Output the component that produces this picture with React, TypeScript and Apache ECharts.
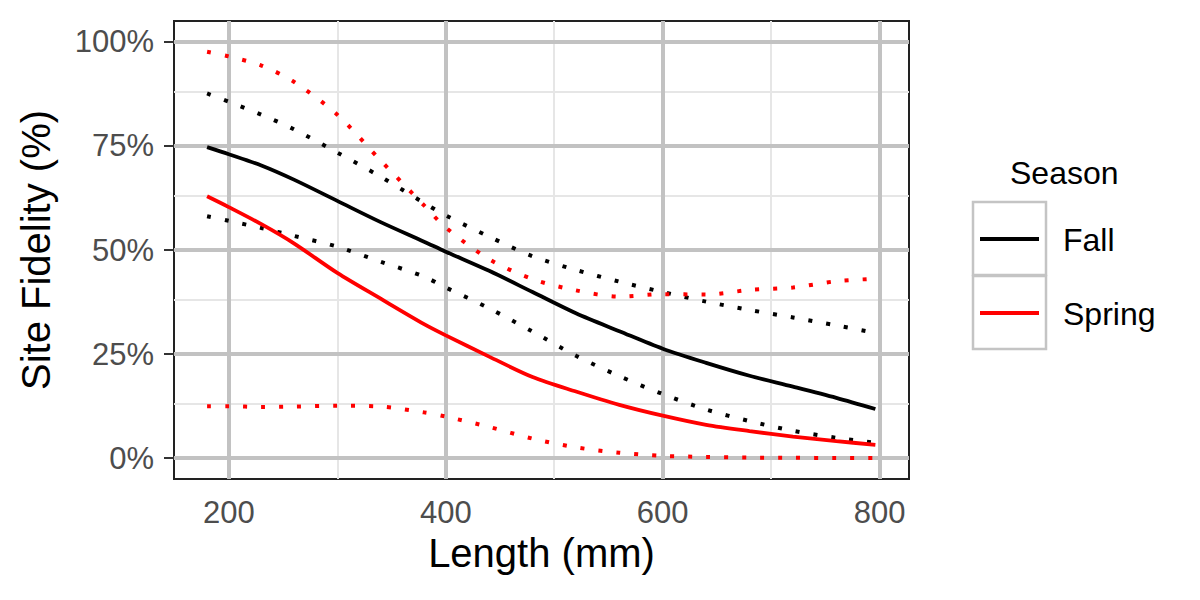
import React, { useEffect, useRef } from "react";
import * as echarts from "echarts";

// Length (mm) at which values were read
const lengths = [180, 200, 230, 260, 300, 340, 380, 400, 440, 480, 520, 560, 600, 640, 680, 720, 760, 796];

// Site fidelity (%)
const fallFit = [74.7, 73, 70.3, 66.9, 61.8, 56.7, 52, 49.6, 45, 39.9, 34.8, 30.5, 26.3, 22.9, 19.8, 17.2, 14.5, 11.8];
const fallUpper = [87.6, 85.6, 82.5, 79, 73.4, 67.6, 61.3, 58.3, 53.2, 48.5, 45.2, 42.4, 39.9, 37.6, 35.6, 33.8, 31.9, 30.1];
const fallLower = [58.1, 57, 55.3, 53.4, 50.8, 47.2, 43.6, 41, 36, 30.4, 24.6, 19.7, 15.4, 11.7, 8.9, 6.6, 4.9, 3.7];
const springFit = [62.9, 60.3, 56.2, 51.6, 44.5, 38.3, 32.2, 29.5, 24.4, 19.5, 16, 12.8, 10.2, 8, 6.5, 5.2, 4.1, 3.2];
const springUpper = [97.6, 96.5, 94.3, 90.4, 82.5, 71.5, 60.7, 55.4, 47.8, 43, 40.3, 38.8, 39.4, 39.3, 40.4, 41, 42.5, 43.1];
const springLower = [12.5, 12.5, 12.3, 12.4, 12.6, 12.4, 11, 10, 7.5, 4.7, 2.6, 1.3, 0.55, 0.3, 0.15, 0.1, 0.05, 0.03];

const seasons = ["Fall", "Spring"];
const seasonColors = ["#000000", "#ff0000"];

const xTicks = [200, 400, 600, 800];
const xMinor = [300, 500, 700];
const yTicks = [0, 0.25, 0.5, 0.75, 1];
const yMinor = [0.125, 0.375, 0.625, 0.875];

const FONT = "Liberation Sans, Arial, Helvetica, sans-serif";

const pairs = (ys: number[]) => lengths.map((x, i) => [x, ys[i] / 100]);

export default function App() {
  const ref = useRef<HTMLDivElement>(null);
  useEffect(() => {
    if (!ref.current) return;
    const chart = echarts.init(ref.current, null, { renderer: "svg" });
    const dotted = [4, 14];
    const lineSeries = (name: string, ys: number[], color: string, dot: boolean) => ({
      type: "line",
      name,
      data: pairs(ys),
      showSymbol: false,
      symbol: "none",
      smooth: 0.3,
      z: 3,
      silent: true,
      lineStyle: {
        color,
        width: dot ? 4 : 3.8,
        type: dot ? dotted : "solid",
        cap: "butt",
      },
    });
    const major = "#c2c2c2";
    const minor = "#e6e6e6";
    const gridLines = [
      ...xMinor.map((v) => ({ xAxis: v, lineStyle: { color: minor, width: 2, type: "solid" } })),
      ...yMinor.map((v) => ({ yAxis: v, lineStyle: { color: minor, width: 2, type: "solid" } })),
      ...xTicks.map((v) => ({ xAxis: v, lineStyle: { color: major, width: 4, type: "solid" } })),
      ...yTicks.map((v) => ({ yAxis: v, lineStyle: { color: major, width: 4, type: "solid" } })),
    ];
    const keyTop = [202, 276];
    const keyH = 73;
    const legendItems: any[] = [];
    seasons.forEach((s, i) => {
      legendItems.push({
        type: "rect",
        shape: { x: 973, y: keyTop[i], width: 73, height: keyH },
        style: { fill: "#ffffff", stroke: "#c4c4c4", lineWidth: 2.5 },
      });
      legendItems.push({
        type: "line",
        shape: { x1: 980, y1: keyTop[i] + 37, x2: 1039, y2: keyTop[i] + 37 },
        style: { stroke: seasonColors[i], lineWidth: 3.8 },
      });
      legendItems.push({
        type: "text",
        x: 1063,
        y: keyTop[i] + 38,
        style: {
          text: s,
          fill: "#000000",
          font: `32px ${FONT}`,
          verticalAlign: "middle",
          align: "left",
        },
      });
    });
    legendItems.push({
      type: "text",
      x: 1010,
      y: 173,
      style: {
        text: "Season",
        fill: "#000000",
        font: `32px ${FONT}`,
        verticalAlign: "middle",
        align: "left",
      },
    });

    chart.setOption({
      animation: false,
      backgroundColor: "#ffffff",
      textStyle: { fontFamily: FONT },
      grid: {
        left: 174,
        top: 21,
        width: 735,
        height: 458,
        show: true,
        borderColor: "#222222",
        borderWidth: 2,
        backgroundColor: "#ffffff",
        containLabel: false,
      },
      xAxis: {
        type: "value",
        min: 149.5,
        max: 827,
        name: "Length (mm)",
        nameLocation: "middle",
        nameGap: 53,
        nameTextStyle: { fontSize: 40, color: "#000000", fontFamily: FONT },
        axisLine: { show: false },
        splitLine: { show: false },
        axisTick: {
          show: true,
          customValues: xTicks,
          length: 10,
          lineStyle: { color: "#333333", width: 2 },
        },
        axisLabel: {
          customValues: xTicks,
          fontSize: 31,
          color: "#4d4d4d",
          margin: 18,
          fontFamily: FONT,
        },
      },
      yAxis: {
        type: "value",
        min: -0.05,
        max: 1.05,
        name: "Site Fidelity (%)",
        nameLocation: "middle",
        nameGap: 118,
        nameTextStyle: { fontSize: 40, color: "#000000", fontFamily: FONT },
        axisLine: { show: false },
        splitLine: { show: false },
        axisTick: {
          show: true,
          customValues: yTicks,
          length: 10,
          lineStyle: { color: "#333333", width: 2 },
        },
        axisLabel: {
          customValues: yTicks,
          fontSize: 31,
          color: "#4d4d4d",
          margin: 20,
          fontFamily: FONT,
          formatter: (v: number) => `${Math.round(v * 100)}%`,
        },
      },
      graphic: legendItems,
      series: [
        {
          type: "line",
          name: "grid",
          data: [],
          silent: true,
          z: 0,
          markLine: {
            silent: true,
            z: 1,
            symbol: ["none", "none"],
            label: { show: false },
            emphasis: { disabled: true },
            data: gridLines,
          },
        },
        lineSeries("Fall", fallFit, seasonColors[0], false),
        lineSeries("Fall upper", fallUpper, seasonColors[0], true),
        lineSeries("Fall lower", fallLower, seasonColors[0], true),
        lineSeries("Spring", springFit, seasonColors[1], false),
        lineSeries("Spring upper", springUpper, seasonColors[1], true),
        lineSeries("Spring lower", springLower, seasonColors[1], true),
      ],
    });
    return () => chart.dispose();
  }, []);
  return <div ref={ref} style={{ width: 1200, height: 600, position: "absolute", left: 0, top: 0 }} />;
}
